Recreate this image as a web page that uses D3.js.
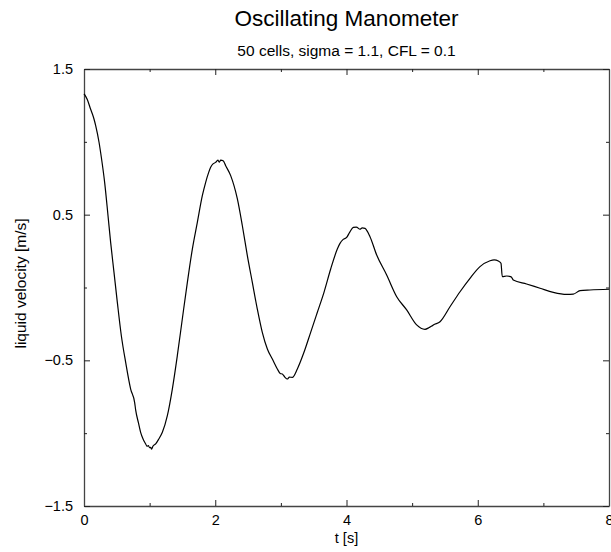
<!DOCTYPE html>
<html><head><meta charset="utf-8">
<script src="https://cdn.jsdelivr.net/npm/d3@7"></script>
<style>body{margin:0;background:#fff}text{font-family:"Liberation Sans",Arial,sans-serif}</style>
</head><body>
<svg id="c" width="611" height="552"></svg>
<script>
const title = "Oscillating Manometer";
const subtitle = "50 cells, sigma = 1.1, CFL = 0.1";
const xLabel = "t [s]";
const yLabel = "liquid velocity [m/s]";
const xMajorTicks = [0, 2, 4, 6, 8];
const xMinorTicks = [1, 3, 5, 7];
const yMajorTicks = [1.5, 0.5, -0.5, -1.5];
const yMinorTicks = [1.0, 0.0, -1.0];
const tData = [0.0,0.015,0.05,0.10,0.15,0.178,0.229,0.264,0.315,0.366,0.406,0.457,0.508,0.569,0.635,0.711,0.772,0.787,0.83,0.863,0.90,0.94,0.96,0.98,1.0,1.016,1.03,1.05,1.092,1.14,1.194,1.27,1.346,1.422,1.498,1.575,1.651,1.727,1.803,1.854,1.90,1.93,1.97,2.006,2.04,2.06,2.083,2.12,2.159,2.235,2.337,2.413,2.489,2.565,2.641,2.717,2.794,2.870,2.946,2.99,3.022,3.06,3.098,3.13,3.175,3.251,3.352,3.454,3.556,3.657,3.759,3.86,3.901,3.95,4.003,4.05,4.104,4.15,4.206,4.24,4.282,4.358,4.46,4.612,4.765,4.917,5.069,5.196,5.26,5.30,5.323,5.425,5.577,5.73,5.882,6.034,6.187,6.25,6.314,6.354,6.374,6.44,6.50,6.516,6.541,6.744,6.949,7.151,7.355,7.456,7.558,7.71,8.0];
const vData = [1.33,1.321,1.29,1.225,1.16,1.111,0.997,0.894,0.72,0.493,0.31,0.104,-0.102,-0.331,-0.514,-0.697,-0.79,-0.84,-0.93,-0.994,-1.04,-1.074,-1.09,-1.085,-1.10,-1.097,-1.11,-1.09,-1.074,-1.04,-0.994,-0.88,-0.697,-0.468,-0.216,0.035,0.264,0.447,0.63,0.722,0.79,0.825,0.85,0.859,0.875,0.86,0.875,0.87,0.836,0.768,0.608,0.424,0.219,0.035,-0.148,-0.308,-0.422,-0.491,-0.559,-0.59,-0.594,-0.615,-0.628,-0.615,-0.617,-0.559,-0.445,-0.308,-0.17,-0.033,0.127,0.264,0.303,0.33,0.344,0.38,0.413,0.415,0.40,0.41,0.406,0.349,0.223,0.086,-0.063,-0.154,-0.257,-0.287,-0.275,-0.265,-0.257,-0.235,-0.132,-0.029,0.063,0.143,0.184,0.19,0.182,0.166,0.074,0.079,0.075,0.07,0.051,0.024,-0.005,-0.033,-0.047,-0.045,-0.022,-0.017,-0.012];

const svg = d3.select("#c");
const L = 84, R = 609, T = 69, B = 506;
const x = d3.scaleLinear().domain([0, 8]).range([L, R]);
const y = d3.scaleLinear().domain([-1.5, 1.5]).range([B, T]);
const fmt = d3.format("");
const axisColor = "#444";

function styleAxis(g) {
  g.select(".domain").attr("stroke", axisColor).attr("stroke-width", 1.3);
  g.selectAll(".tick line").attr("stroke", "#222").attr("stroke-width", 1);
  g.selectAll(".tick text").attr("font-size", 14.5).attr("fill", "#000")
    .attr("font-family", '"Liberation Sans",Arial,sans-serif');
}
function minor(g) { g.select(".domain").remove(); g.selectAll(".tick line").attr("stroke", "#222"); }

svg.append("g").attr("transform", `translate(0,${B})`)
  .call(d3.axisBottom(x).tickValues(xMajorTicks).tickFormat(fmt).tickSizeInner(-6).tickSizeOuter(0).tickPadding(9))
  .call(styleAxis);
svg.append("g").attr("transform", `translate(0,${B})`)
  .call(d3.axisBottom(x).tickValues(xMinorTicks).tickFormat("").tickSizeInner(-3).tickSizeOuter(0)).call(minor);
svg.append("g").attr("transform", `translate(0,${T})`)
  .call(d3.axisTop(x).tickValues(xMajorTicks).tickFormat("").tickSizeInner(-6).tickSizeOuter(0))
  .call(styleAxis);
svg.append("g").attr("transform", `translate(0,${T})`)
  .call(d3.axisTop(x).tickValues(xMinorTicks).tickFormat("").tickSizeInner(-3).tickSizeOuter(0)).call(minor);
svg.append("g").attr("transform", `translate(${L},0)`)
  .call(d3.axisLeft(y).tickValues(yMajorTicks).tickFormat(fmt).tickSizeInner(-6).tickSizeOuter(0).tickPadding(11))
  .call(styleAxis);
svg.append("g").attr("transform", `translate(${L},0)`)
  .call(d3.axisLeft(y).tickValues(yMinorTicks).tickFormat("").tickSizeInner(-3).tickSizeOuter(0)).call(minor);
svg.append("g").attr("transform", `translate(${R},0)`)
  .call(d3.axisRight(y).tickValues(yMajorTicks).tickFormat("").tickSizeInner(-6).tickSizeOuter(0))
  .call(styleAxis);
svg.append("g").attr("transform", `translate(${R},0)`)
  .call(d3.axisRight(y).tickValues(yMinorTicks).tickFormat("").tickSizeInner(-3).tickSizeOuter(0)).call(minor);

const pts = tData.map((t, i) => [t, vData[i]]);
svg.append("path").datum(pts)
  .attr("fill", "none").attr("stroke", "#000").attr("stroke-width", 1.2)
  .attr("stroke-linejoin", "round")
  .attr("d", d3.line().curve(d3.curveMonotoneX).x(d => x(d[0])).y(d => y(d[1])));

const cx = (L + R) / 2;
svg.append("text").attr("x", cx).attr("y", 26).attr("text-anchor", "middle")
  .attr("font-size", 22.5).attr("fill", "#000").text(title);
svg.append("text").attr("x", cx).attr("y", 56).attr("text-anchor", "middle")
  .attr("font-size", 15.5).attr("fill", "#000").text(subtitle);
svg.append("text").attr("x", cx).attr("y", 543).attr("text-anchor", "middle")
  .attr("font-size", 14.5).attr("fill", "#000").text(xLabel);
svg.append("text").attr("transform", `translate(26,${(T + B) / 2 - 4}) rotate(-90)`)
  .attr("text-anchor", "middle").attr("font-size", 15.5).attr("fill", "#000").text(yLabel);
</script>
</body></html>
